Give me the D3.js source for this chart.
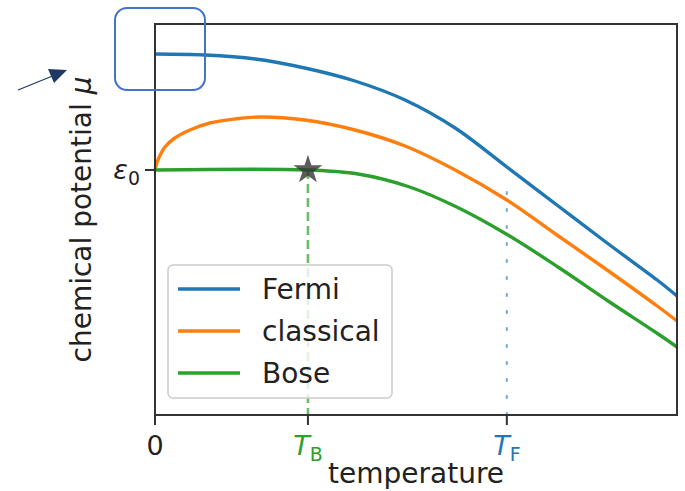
<!DOCTYPE html>
<html>
<head>
<meta charset="utf-8">
<script src="https://cdn.jsdelivr.net/npm/d3@7"></script>
<style>
  body { margin: 0; background: #fff; }
  svg { display: block; font-family: "DejaVu Sans", sans-serif; }
</style>
</head>
<body>
<script>
(function (d3) {
  "use strict";

  /***** Data (temperature as fraction of axis, mu relative to eps0) *****/
  var fermiT  = [0, 0.096, 0.192, 0.287, 0.383, 0.479, 0.575, 0.674, 0.770, 0.866, 0.962, 1.0];
  var fermiMu = [1.16, 1.15, 1.11, 1.02, 0.89, 0.70, 0.42, 0.03, -0.35, -0.73, -1.10, -1.26];

  var classT  = [0, 0.004, 0.010, 0.019, 0.038, 0.067, 0.105, 0.153, 0.201, 0.287, 0.383, 0.479, 0.575, 0.674, 0.770, 0.866, 0.962, 1.0];
  var classMu = [0, 0.08, 0.15, 0.23, 0.32, 0.40, 0.47, 0.51, 0.53, 0.50, 0.40, 0.24, 0.00, -0.30, -0.65, -1.00, -1.36, -1.51];

  var boseT  = [0, 0.293, 0.389, 0.485, 0.580, 0.676, 0.772, 0.868, 0.964, 1.0];
  var boseMu = [0, 0, -0.04, -0.165, -0.375, -0.65, -0.97, -1.31, -1.64, -1.77];

  var T_B = 0.293, T_F = 0.674;
  var seriesNames = ["Fermi", "classical", "Bose"];
  var seriesColors = ["#1f77b4", "#ff7f0e", "#2ca02c"];

  /***** Layout *****/
  var width = 685, height = 491;
  var box = { left: 155, right: 677, top: 24, bottom: 415 };

  var x = d3.scaleLinear().domain([0, 1]).range([box.left, box.right]);
  var y = d3.scaleLinear().domain([-2.45, 1.46]).range([box.bottom, box.top]);

  var svg = d3.select("body").append("svg")
      .attr("width", width).attr("height", height);

  var line = d3.line()
      .x(function (d) { return x(d[0]); })
      .y(function (d) { return y(d[1]); })
      .curve(d3.curveCatmullRom.alpha(0.5));

  var series = [
    d3.zip(fermiT, fermiMu),
    d3.zip(classT, classMu),
    d3.zip(boseT, boseMu)
  ];

  var plot = svg.append("g");

  // T_F dotted line
  plot.append("line")
      .attr("x1", x(T_F)).attr("x2", x(T_F))
      .attr("y1", y(-2.45)).attr("y2", y(-0.15))
      .attr("stroke", seriesColors[0]).attr("stroke-opacity", 0.6)
      .attr("stroke-width", 2.2).attr("stroke-dasharray", "2,15")
      .attr("stroke-linecap", "round");

  // T_B dashed line
  plot.append("line")
      .attr("x1", x(T_B)).attr("x2", x(T_B))
      .attr("y1", y(0)).attr("y2", y(-2.45))
      .attr("stroke", seriesColors[2]).attr("stroke-opacity", 0.7)
      .attr("stroke-width", 2.6).attr("stroke-dasharray", "9,5");

  plot.selectAll("path.curve")
      .data(series)
      .join("path")
      .attr("class", "curve")
      .attr("d", line)
      .attr("fill", "none")
      .attr("stroke", function (d, i) { return seriesColors[i]; })
      .attr("stroke-width", 3.4);

  // star at Bose condensation
  plot.append("path")
      .attr("d", d3.symbol(d3.symbolStar, 260)())
      .attr("transform", "translate(" + x(T_B) + "," + y(0) + ")")
      .attr("fill", "#333").attr("fill-opacity", 0.8);

  /***** Frame and ticks *****/
  svg.append("rect")
      .attr("x", box.left).attr("y", box.top)
      .attr("width", box.right - box.left).attr("height", box.bottom - box.top)
      .attr("fill", "none").attr("stroke", "#333").attr("stroke-width", 2);

  var xTicks = [0, T_B, T_F];
  svg.selectAll("line.xtick").data(xTicks).join("line")
      .attr("class", "xtick")
      .attr("x1", function (d) { return x(d); }).attr("x2", function (d) { return x(d); })
      .attr("y1", box.bottom).attr("y2", box.bottom + 10)
      .attr("stroke", "#333").attr("stroke-width", 2);

  svg.append("line")
      .attr("x1", box.left - 10).attr("x2", box.left)
      .attr("y1", y(0)).attr("y2", y(0))
      .attr("stroke", "#333").attr("stroke-width", 2);

  var fs = 27;
  svg.append("text")
      .attr("x", x(0)).attr("y", 455)
      .attr("text-anchor", "middle").attr("font-size", fs).attr("fill", "#222")
      .text("0");

  function tLabel(t, sub, color) {
    var txt = svg.append("text")
        .attr("x", x(t)).attr("y", 455)
        .attr("text-anchor", "middle").attr("font-size", fs).attr("fill", color);
    txt.append("tspan").attr("font-style", "italic").text("T");
    txt.append("tspan").attr("font-size", fs * 0.7).attr("dy", 6).text(sub);
  }
  tLabel(T_B, "B", seriesColors[2]);
  tLabel(T_F, "F", seriesColors[0]);

  var eps = svg.append("text")
      .attr("x", box.left - 15).attr("y", y(0) + 9)
      .attr("text-anchor", "end").attr("font-size", fs).attr("fill", "#222");
  eps.append("tspan").attr("font-style", "italic").text("ε");
  eps.append("tspan").attr("font-size", fs * 0.7).attr("dy", 6).text("0");

  svg.append("text")
      .attr("x", (box.left + box.right) / 2).attr("y", 483)
      .attr("text-anchor", "middle").attr("font-size", 28).attr("fill", "#222")
      .text("temperature");

  var yl = svg.append("text")
      .attr("transform", "translate(91," + (box.top + box.bottom) / 2 + ") rotate(-90)")
      .attr("text-anchor", "middle").attr("font-size", 28).attr("fill", "#222");
  yl.append("tspan").text("chemical potential ");
  yl.append("tspan").attr("font-style", "italic").text("μ");

  /***** Legend *****/
  var lg = svg.append("g").attr("transform", "translate(168,265)");
  lg.append("rect")
      .attr("width", 224).attr("height", 133).attr("rx", 5)
      .attr("fill", "#fff").attr("fill-opacity", 0.8)
      .attr("stroke", "#ccc").attr("stroke-width", 1.5);
  var items = lg.selectAll("g.item").data(seriesNames).join("g")
      .attr("class", "item")
      .attr("transform", function (d, i) { return "translate(0," + (24 + i * 42) + ")"; });
  items.append("line")
      .attr("x1", 10).attr("x2", 72)
      .attr("stroke", function (d, i) { return seriesColors[i]; })
      .attr("stroke-width", 3.4);
  items.append("text")
      .attr("x", 94).attr("dy", "0.35em")
      .attr("font-size", 28).attr("fill", "#222")
      .text(function (d) { return d; });

  /***** Overlay annotation: highlight box and arrow *****/
  svg.append("rect")
      .attr("x", 115).attr("y", 8).attr("width", 90).attr("height", 82).attr("rx", 12)
      .attr("fill", "none").attr("stroke", "#4472c4").attr("stroke-width", 2);

  svg.append("line")
      .attr("x1", 18).attr("y1", 90).attr("x2", 55).attr("y2", 75)
      .attr("stroke", "#1f3864").attr("stroke-width", 1.2);
  svg.append("path")
      .attr("d", "M48,69 L67,70 L54,83 Z")
      .attr("fill", "#1f3864");

})(d3);
</script>
</body>
</html>
